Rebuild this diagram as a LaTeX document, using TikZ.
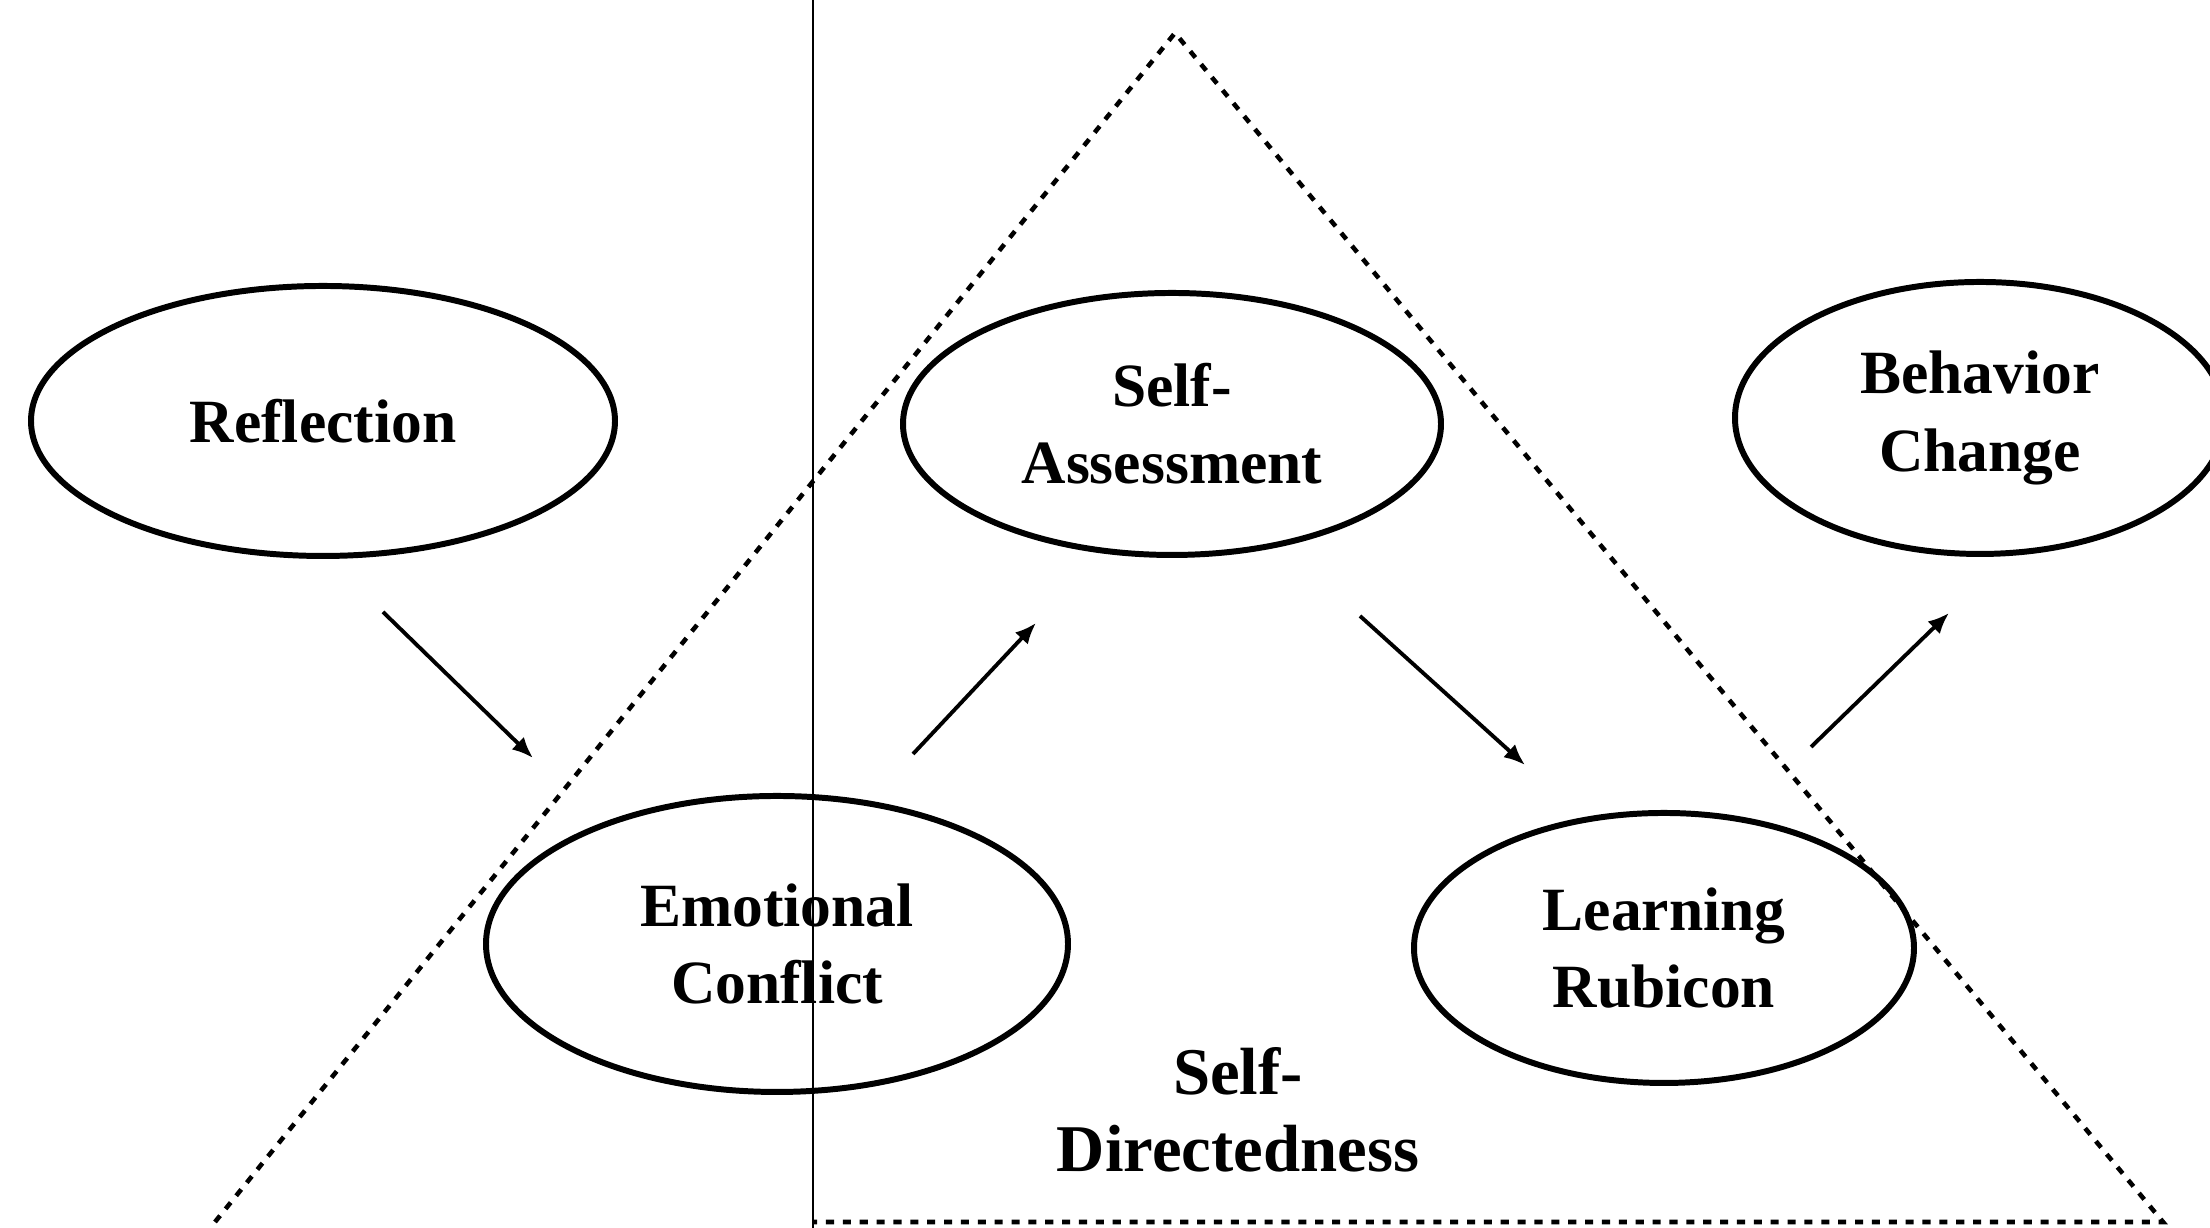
\documentclass[tikz,border=0pt]{standalone}
\usepackage{fontspec}
\setmainfont{Liberation Serif}
\usepackage{tikz}
\usetikzlibrary{arrows.meta, shapes.geometric, calc, positioning}

\begin{document}
\begin{tikzpicture}[
    stage/.style={draw, ellipse, line width=1.7pt, inner sep=0pt, align=center,
      font=\bfseries\fontsize{17.5}{22}\selectfont},
    flow/.style={line width=1.1pt, -{Latex[length=6pt,width=5pt]}},
    zone/.style={line width=1.3pt, dash pattern=on 2.3pt off 2.5pt}
  ]
  \useasboundingbox (0,0) rectangle (22.1,12.28);
  \coordinate (apex) at (11.75,11.95);
  \coordinate (bl) at (2.15,0.06);
  \coordinate (br) at (21.63,0.06);
  \coordinate (top) at (8.13,12.28);
  \coordinate (bot) at (8.13,0);
  %
  \draw[zone] (bl) -- (apex) -- (br) -- (bot |- br);
  \draw[line width=0.6pt] (top) -- (bot);
  %
  \node[stage, minimum width=5.84cm, minimum height=2.70cm] (refl) at (3.23,8.07) {Reflection};
  \node[stage, minimum width=5.38cm, minimum height=2.62cm] (selfa) at (11.72,8.04) {Self-\\Assessment};
  \node[stage, minimum width=4.90cm, minimum height=2.72cm] (behav) at (19.80,8.10) {Behavior\\Change};
  \node[stage, minimum width=5.82cm, minimum height=2.96cm] (emot) at (7.77,2.84) {Emotional\\Conflict};
  \node[stage, minimum width=5.00cm, minimum height=2.70cm] (learn) at (16.64,2.80) {Learning\\Rubicon};
  \node[align=center, font=\bfseries\fontsize{19}{22}\selectfont] (sdir) at (12.38,1.18) {Self-\\Directedness};
  %
  \draw[flow] ($(refl.south)+(0.6,-0.53)$) -- ($(emot.north)+(-2.44,0.35)$);
  \draw[flow] ($(emot.north)+(1.36,0.39)$) -- ($(selfa.south)+(-1.36,-0.65)$);
  \draw[flow] ($(selfa.south)+(1.88,-0.58)$) -- ($(learn.north)+(-1.39,0.45)$);
  \draw[flow] ($(learn.north)+(1.47,0.63)$) -- ($(behav.south)+(-0.31,-0.56)$);
\end{tikzpicture}
\end{document}
